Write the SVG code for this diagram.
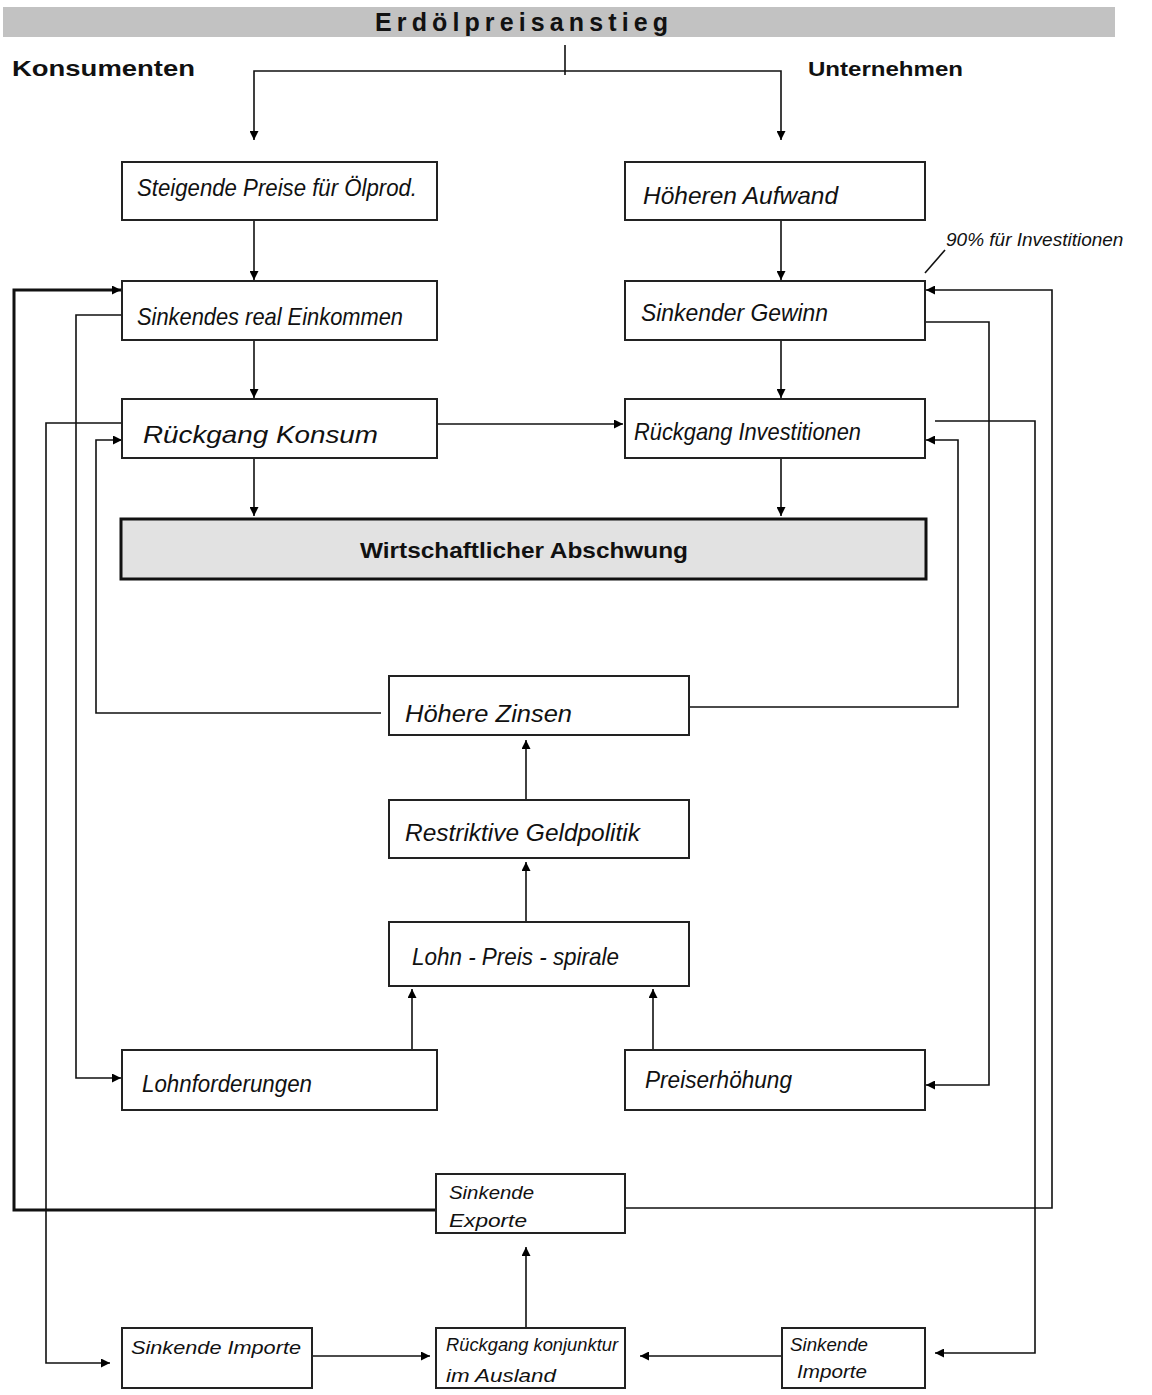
<svg xmlns="http://www.w3.org/2000/svg" width="1152" height="1395" viewBox="0 0 1152 1395">
  <defs>
    <marker id="arrow" viewBox="0 0 10 10" refX="10" refY="5" markerWidth="9" markerHeight="9" markerUnits="userSpaceOnUse" orient="auto">
      <path d="M0,0 L10,5 L0,10 z" fill="#000"/>
    </marker>
  </defs>
  <style>
    .box { fill: #fff; stroke: #222; stroke-width: 2; }
    .hand { font-family: "Liberation Sans", "DejaVu Sans", sans-serif; font-style: italic; font-size: 24px; fill: #111; }
    .small { font-size: 19px; }
    .tiny { font-size: 18px; }
    .note { font-size: 19px; }
    .head { font-family: "Liberation Sans", Arial, sans-serif; font-weight: bold; fill: #111; }
    .conn { fill: none; stroke: #111; stroke-width: 1.6; }
    .thick { stroke-width: 3; }
    .arr { marker-end: url(#arrow); }
  </style>

  <rect width="1152" height="1395" fill="#fff"/>

  <!-- title bar -->
  <g id="title">
    <rect x="3" y="7" width="1112" height="30" fill="#c2c2c2"/>
    <text class="head" x="375" y="31" font-size="25" textLength="293" lengthAdjust="spacing">Erdölpreisanstieg</text>
  </g>
  <text class="head" x="12" y="76" font-size="22" textLength="183" lengthAdjust="spacingAndGlyphs">Konsumenten</text>
  <text class="head" x="808" y="76" font-size="21" textLength="155" lengthAdjust="spacingAndGlyphs">Unternehmen</text>

  <!-- connectors -->
  <g id="connectors">
    <path class="conn" d="M565,45 V75"/>
    <path class="conn arr" d="M565,71 H254 V140"/>
    <path class="conn arr" d="M565,71 H781 V140"/>

    <path class="conn arr" d="M254,220 V280"/>
    <path class="conn arr" d="M781,220 V280"/>
    <path class="conn arr" d="M254,340 V398"/>
    <path class="conn arr" d="M781,340 V398"/>
    <path class="conn arr" d="M254,458 V516"/>
    <path class="conn arr" d="M781,458 V516"/>
    <path class="conn arr" d="M437,424 H623"/>

    <!-- Höhere Zinsen feedback -->
    <path class="conn arr" d="M381,713 H96 V440 H122"/>
    <path class="conn arr" d="M686,707 H958 V440 H926"/>

    <!-- central chain -->
    <path class="conn arr" d="M526,800 V740"/>
    <path class="conn arr" d="M526,922 V862"/>
    <path class="conn arr" d="M412,1050 V989"/>
    <path class="conn arr" d="M653,1050 V989"/>

    <!-- income to wage demands -->
    <path class="conn arr" d="M122,315 H76 V1078 H121"/>
    <!-- profit to price rise -->
    <path class="conn arr" d="M925,322 H989 V1085 H926" stroke-width="2.2"/>

    <!-- exports feedback -->
    <path class="conn thick arr" d="M436,1210 H14 V290 H121"/>
    <path class="conn arr" d="M625,1208 H1052 V290 H926"/>

    <!-- imports -->
    <path class="conn arr" d="M122,423 H46 V1363 H110"/>
    <path class="conn arr" d="M935,421 H1035 V1353 H935"/>
    <path class="conn arr" d="M312,1356 H430"/>
    <path class="conn arr" d="M782,1356 H640"/>
    <path class="conn arr" d="M526,1328 V1247"/>

    <!-- annotation leader -->
    <path class="conn" d="M925,273 L945,250"/>
  </g>

  <!-- nodes -->
  <g id="steigende-preise">
    <rect class="box" x="122" y="162" width="315" height="58"/>
    <text class="hand" x="137" y="196" textLength="280" lengthAdjust="spacingAndGlyphs">Steigende Preise für Ölprod.</text>
  </g>
  <g id="hoeheren-aufwand">
    <rect class="box" x="625" y="162" width="300" height="58"/>
    <text class="hand" x="643" y="204" textLength="195" lengthAdjust="spacingAndGlyphs">Höheren Aufwand</text>
  </g>
  <g id="sinkendes-einkommen">
    <rect class="box" x="122" y="281" width="315" height="59"/>
    <text class="hand" x="137" y="325" textLength="266" lengthAdjust="spacingAndGlyphs">Sinkendes real Einkommen</text>
  </g>
  <g id="sinkender-gewinn">
    <rect class="box" x="625" y="281" width="300" height="59"/>
    <text class="hand" x="641" y="321" textLength="187" lengthAdjust="spacingAndGlyphs">Sinkender Gewinn</text>
  </g>
  <g id="rueckgang-konsum">
    <rect class="box" x="122" y="399" width="315" height="59"/>
    <text class="hand" x="143" y="443" textLength="235" lengthAdjust="spacingAndGlyphs">Rückgang Konsum</text>
  </g>
  <g id="rueckgang-investitionen">
    <rect class="box" x="625" y="399" width="300" height="59"/>
    <text class="hand" x="634" y="440" textLength="227" lengthAdjust="spacingAndGlyphs">Rückgang Investitionen</text>
  </g>
  <g id="abschwung">
    <rect x="121" y="519" width="805" height="60" fill="#e2e2e2" stroke="#111" stroke-width="3"/>
    <text class="head" x="360" y="558" font-size="22" textLength="328" lengthAdjust="spacingAndGlyphs">Wirtschaftlicher Abschwung</text>
  </g>
  <g id="hoehere-zinsen">
    <rect class="box" x="389" y="676" width="300" height="59"/>
    <text class="hand" x="405" y="722" textLength="167" lengthAdjust="spacingAndGlyphs">Höhere Zinsen</text>
  </g>
  <g id="geldpolitik">
    <rect class="box" x="389" y="800" width="300" height="58"/>
    <text class="hand" x="405" y="841" textLength="235" lengthAdjust="spacingAndGlyphs">Restriktive Geldpolitik</text>
  </g>
  <g id="lohn-preis-spirale">
    <rect class="box" x="389" y="922" width="300" height="64"/>
    <text class="hand" x="412" y="965" textLength="207" lengthAdjust="spacingAndGlyphs">Lohn - Preis - spirale</text>
  </g>
  <g id="lohnforderungen">
    <rect class="box" x="122" y="1050" width="315" height="60"/>
    <text class="hand" x="142" y="1092" textLength="170" lengthAdjust="spacingAndGlyphs">Lohnforderungen</text>
  </g>
  <g id="preiserhoehung">
    <rect class="box" x="625" y="1050" width="300" height="60"/>
    <text class="hand" x="645" y="1088" textLength="147" lengthAdjust="spacingAndGlyphs">Preiserhöhung</text>
  </g>
  <g id="sinkende-exporte">
    <rect class="box" x="436" y="1174" width="189" height="59"/>
    <text class="hand small" x="449" y="1199" textLength="85" lengthAdjust="spacingAndGlyphs">Sinkende</text>
    <text class="hand small" x="449" y="1227" textLength="78" lengthAdjust="spacingAndGlyphs">Exporte</text>
  </g>
  <g id="sinkende-importe-links">
    <rect class="box" x="122" y="1328" width="190" height="60"/>
    <text class="hand small" x="131" y="1354" textLength="170" lengthAdjust="spacingAndGlyphs">Sinkende Importe</text>
  </g>
  <g id="konjunktur-ausland">
    <rect class="box" x="436" y="1328" width="189" height="60"/>
    <text class="hand tiny" x="446" y="1351" textLength="172" lengthAdjust="spacingAndGlyphs">Rückgang konjunktur</text>
    <text class="hand small" x="446" y="1382" textLength="110" lengthAdjust="spacingAndGlyphs">im Ausland</text>
  </g>
  <g id="sinkende-importe-rechts">
    <rect class="box" x="782" y="1328" width="143" height="60"/>
    <text class="hand tiny" x="790" y="1351" textLength="78" lengthAdjust="spacingAndGlyphs">Sinkende</text>
    <text class="hand tiny" x="797" y="1378" textLength="70" lengthAdjust="spacingAndGlyphs">Importe</text>
  </g>

  <!-- annotation -->
  <text class="hand note" x="946" y="246">90% für Investitionen</text>
</svg>
